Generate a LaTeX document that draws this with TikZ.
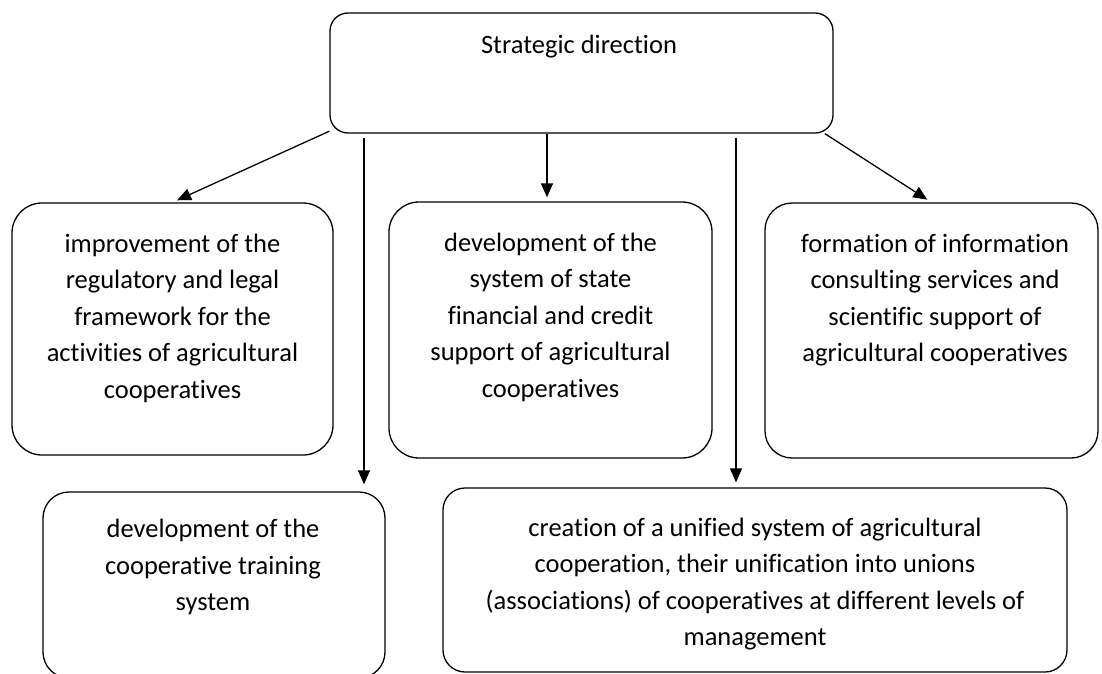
\documentclass[tikz,border=0pt]{standalone}
\usepackage{fontspec}
\setmainfont{Carlito}[Ligatures=NoCommon]
\usetikzlibrary{arrows.meta}

\tikzset{
    goalbox/.style={draw, line width=1.3pt, rounded corners=30pt, inner sep=0pt},
    boxtext/.style={align=center, font=\fontsize{26.5}{36.5}\selectfont},
    linkarrow/.style={-{Triangle[length=14pt,width=12pt]}, line width=1.3pt},
}

\begin{document}
\begin{tikzpicture}[x=1pt,y=-1pt]
    \useasboundingbox (0,0) rectangle (1102,674);
    \clip (0,0) rectangle (1102,674);

    % top box
    \node[goalbox, rounded corners=18pt, minimum width=503pt, minimum height=120pt] (strat) at (581.5,73) {};
    \node[boxtext] (strattxt) at (579,47) {Strategic direction};

    % first row
    \node[goalbox, minimum width=321pt, minimum height=252pt] (legal) at (172.5,329) {};
    \node[boxtext] (legaltxt) at (172.5,318) {improvement of the\\regulatory and legal\\framework for the\\activities of agricultural\\cooperatives};

    \node[goalbox, minimum width=323pt, minimum height=256pt] (finance) at (550.5,330) {};
    \node[boxtext] (financetxt) at (550.5,317) {development of the\\system of state\\financial and credit\\support of agricultural\\cooperatives};

    \node[goalbox, rounded corners=27pt, minimum width=333pt, minimum height=255pt] (inform) at (931.5,330.5) {};
    \node[boxtext] (informtxt) at (935,300) {formation of information\\consulting services and\\scientific support of\\agricultural cooperatives};

    % second row
    \node[goalbox, rounded corners=26pt, minimum width=342pt, minimum height=186pt] (training) at (214,585) {};
    \node[boxtext] (trainingtxt) at (213,567) {development of the\\cooperative training\\system};

    \node[goalbox, rounded corners=22pt, minimum width=624pt, minimum height=184pt] (unify) at (755,580) {};
    \node[boxtext] (unifytxt) at (755,584) {creation of a unified system of agricultural\\cooperation, their unification into unions\\(associations) of cooperatives at different levels of\\management};

    % arrows
    \draw[linkarrow, shorten >=5pt] (strat.193.8) -- (legal.north);
    \draw[linkarrow, shorten >=4pt] (547,0 |- strat.south) -- (547,0 |- finance.north);
    \draw[linkarrow, shorten >=5pt] (strat.346.2) -- (inform.north);
    \draw[linkarrow, shorten <=4pt, shorten >=7pt] (364,0 |- strat.south) -- (364,0 |- training.north);
    \draw[linkarrow, shorten <=4pt, shorten >=5pt] (736,0 |- strat.south) -- (736,0 |- unify.north);
\end{tikzpicture}
\end{document}
